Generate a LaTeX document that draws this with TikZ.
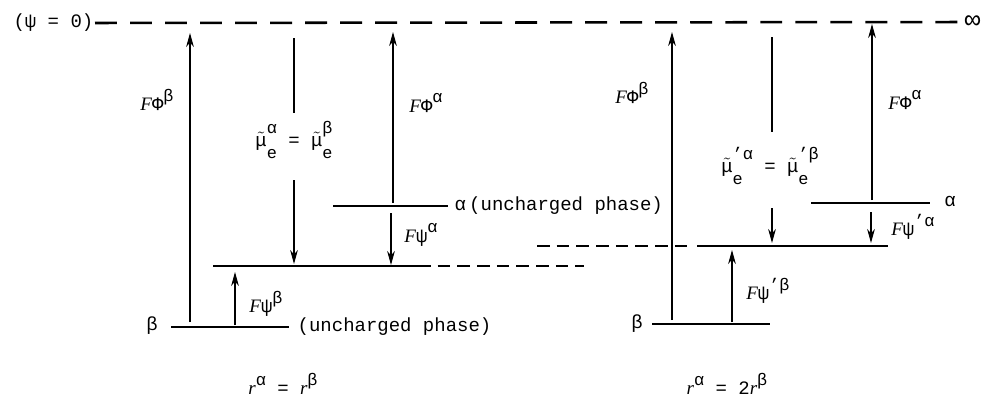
\documentclass[tikz,border=0pt]{standalone}
\usepackage{amsmath}
\usepackage{fontspec}
\setmainfont{Liberation Mono}
\newfontfamily\serifface{Liberation Serif}
\usetikzlibrary{arrows.meta, positioning}

\newcommand{\iF}{{\serifface\itshape F}}
\newcommand{\ir}{{\serifface\itshape r}}
\newcommand{\supsz}{\fontsize{12}{13}\selectfont}
\newcommand{\sups}[1]{\raisebox{0.5em}{\supsz #1}}
\newcommand{\mutil}[1]{$\tilde{\text{μ}}$\rlap{\raisebox{-0.6em}{\supsz e}}\raisebox{0.7em}{\supsz #1}}

\begin{document}
\begin{tikzpicture}[x=0.025cm, y=-0.025cm,
    every node/.style={font=\fontsize{13.5}{16}\selectfont, inner sep=1pt},
    level/.style={line width=1.7pt},
    topdash/.style={line width=1.8pt, dash pattern=on 15.6pt off 9.3pt},
    lowdash/.style={line width=1.6pt, dash pattern=on 9pt off 5pt},
    arr/.style={line width=0.8pt, -{Stealth[length=10pt, width=5.5pt]}},
    stem/.style={line width=0.8pt}]
    \useasboundingbox (0,0) rectangle (989,401);

    % --- Reference level (psi = 0) ---
    \node[anchor=east] (zero) at (95,23) {(ψ = 0)};
    \node[anchor=west, font=\fontsize{19}{20}\selectfont] (inf) at (963,22) {∞};
    \draw[topdash] (zero.east) -- (inf.west);

    % --- Left diagram: r^alpha = r^beta ---
    \coordinate (bL-w) at (171,327); \coordinate (bL-e) at (289,327);
    \coordinate (mL-w) at (213,266); \coordinate (mL-e) at (418,266); \coordinate (mL-d) at (584,266);
    \coordinate (aL-w) at (333,206); \coordinate (aL-e) at (448,206);
    \draw[level] (bL-w) -- (bL-e);
    \draw[level] (mL-w) -- (mL-e);
    \draw[lowdash] (mL-e) -- (mL-d);
    \draw[level] (aL-w) -- (aL-e);
    \node (betaL) at (152,326) {β};
    \node[anchor=west] (uncL) at (296,327) {(uncharged phase)};
    \node[anchor=west] (alphaL) at (453,206) {α\,(uncharged phase)};

    % arrows
    \coordinate (PhiBL-s) at (190,322); \coordinate (PhiBL-n) at (190,33);
    \draw[arr] (PhiBL-s) -- (PhiBL-n);
    \node (PhiBLlab) at (157,100) {\iF Φ\sups{β}};

    \coordinate (muL-n) at (294,38); \coordinate (muL-a) at (294,113);
    \coordinate (muL-b) at (294,180); \coordinate (muL-s) at (294,264);
    \draw[stem] (muL-n) -- (muL-a);
    \node (muLlab) at (294,140) {\mutil{α} = \mutil{β}};
    \draw[arr] (muL-b) -- (muL-s);

    \coordinate (PhiAL-s) at (393,203); \coordinate (PhiAL-n) at (393,32);
    \draw[arr] (PhiAL-s) -- (PhiAL-n);
    \node (PhiALlab) at (426,103) {\iF Φ\sups{α}};

    \coordinate (psiAL-n) at (391,213); \coordinate (psiAL-s) at (391,265);
    \draw[arr] (psiAL-n) -- (psiAL-s);
    \node (psiALlab) at (421,235) {\iF ψ\sups{α}};

    \coordinate (psiBL-s) at (235,325); \coordinate (psiBL-n) at (235,272);
    \draw[arr] (psiBL-s) -- (psiBL-n);
    \node (psiBLlab) at (266,304) {\iF ψ\sups{β}};

    \node (radL) at (283,384) {\ir\sups{α} = \ir\sups{β}};

    % --- Right diagram: r^alpha = 2 r^beta ---
    \coordinate (bR-w) at (652,324); \coordinate (bR-e) at (770,324);
    \coordinate (mR-d) at (537,246); \coordinate (mR-g) at (688,246);
    \coordinate (mR-w) at (697,246); \coordinate (mR-e) at (888,246);
    \coordinate (aR-w) at (811,203); \coordinate (aR-e) at (930,203);
    \draw[level] (bR-w) -- (bR-e);
    \draw[lowdash] (mR-d) -- (mR-g);
    \draw[level] (mR-w) -- (mR-e);
    \draw[level] (aR-w) -- (aR-e);
    \node (betaR) at (637,324) {β};
    \node (alphaR) at (950,201) {α};

    % arrows
    \coordinate (PhiBR-s) at (672,320); \coordinate (PhiBR-n) at (672,32);
    \draw[arr] (PhiBR-s) -- (PhiBR-n);
    \node (PhiBRlab) at (632,93) {\iF Φ\sups{β}};

    \coordinate (muR-n) at (772,37); \coordinate (muR-a) at (772,132);
    \coordinate (muR-b) at (772,208); \coordinate (muR-s) at (772,243);
    \draw[stem] (muR-n) -- (muR-a);
    \node (muRlab) at (770,166) {\mutil{'α} = \mutil{'β}};
    \draw[arr] (muR-b) -- (muR-s);

    \coordinate (PhiAR-s) at (872,200); \coordinate (PhiAR-n) at (872,24);
    \draw[arr] (PhiAR-s) -- (PhiAR-n);
    \node (PhiARlab) at (905,100) {\iF Φ\sups{α}};

    \coordinate (psiAR-n) at (871,212); \coordinate (psiAR-s) at (871,243);
    \draw[arr] (psiAR-n) -- (psiAR-s);
    \node (psiARlab) at (913,227) {\iF ψ\sups{'α}};

    \coordinate (psiBR-s) at (732,322); \coordinate (psiBR-n) at (732,250);
    \draw[arr] (psiBR-s) -- (psiBR-n);
    \node (psiBRlab) at (768,291) {\iF ψ\sups{'β}};

    \node (radR) at (727,384) {\ir\sups{α} = 2\ir\sups{β}};
\end{tikzpicture}
\end{document}
